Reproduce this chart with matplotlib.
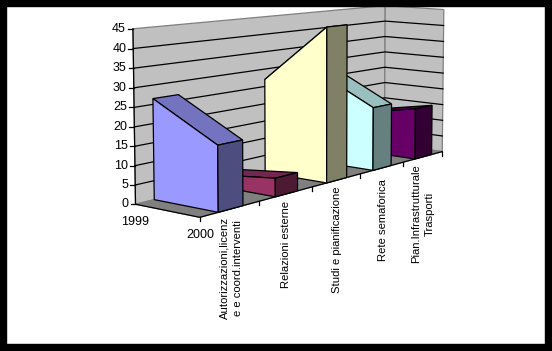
import matplotlib
matplotlib.use("Agg")
import matplotlib.pyplot as plt
import numpy as np

plt.rcParams["font.family"] = ["Liberation Sans", "DejaVu Sans"]

WIDTH, HEIGHT = 552, 351

years = ["1999", "2000"]
categories = ["Autorizzazioni,licenz\ne e coord.interventi", "Relazioni esterne",
              "Studi e pianificazione", "Rete semaforica",
              "Pian.Infrastrutturale\nTrasporti"]
values_1999 = [26.5, 3, 27, 28, 12]
values_2000 = [17, 5, 43.5, 18.5, 15.5]
yticks = [0, 5, 10, 15, 20, 25, 30, 35, 40, 45]

face_colors = ["#9999FF", "#993366", "#FFFFCC", "#CCFFFF", "#660066"]
top_colors = ["#7373BF", "#732650", "#BFBF99", "#99BFBF", "#4D004D"]
side_colors = ["#4D4D80", "#4D1A33", "#808066", "#668080", "#330033"]

# camera: (category pos, year pos, value) -> pixel, fitted on the box corners and ticks
camera_points = [
    ((0, 0, 0), (135, 204)), ((0, 1, 0), (200, 217)), ((1, 1, 0), (259, 202)),
    ((2, 1, 0), (312, 187)), ((3, 1, 0), (360, 173)), ((4, 1, 0), (402, 163)),
    ((5, 1, 0), (442, 152)), ((5, 0, 0), (385, 143)), ((0, 0, 45), (133, 29)),
    ((5, 0, 45), (385, 6)), ((5, 1, 45), (444, 9)),
]


def fit_camera(points):
    rows, rhs = [], []
    for (u, v, z), (px, py) in points:
        rows.append([u, v, z, 1, 0, 0, 0, 0, -px * u, -px * v, -px * z])
        rows.append([0, 0, 0, 0, u, v, z, 1, -py * u, -py * v, -py * z])
        rhs += [px, py]
    sol = np.linalg.lstsq(np.array(rows, float), np.array(rhs, float), rcond=None)[0]
    return np.append(sol, 1).reshape(3, 4)


CAM = fit_camera(camera_points)


def proj(u, v, z):
    p = CAM @ np.array([u, v, z, 1.0])
    return p[0] / p[2], p[1] / p[2]


fig = plt.figure(figsize=(WIDTH / 100, HEIGHT / 100), dpi=100, facecolor="white")
ax = fig.add_axes([0, 0, 1, 1])
ax.set_xlim(0, WIDTH)
ax.set_ylim(HEIGHT, 0)
ax.axis("off")


def face(pts, color, edge="black", z=2, lw=0.9):
    ax.fill([p[0] for p in pts], [p[1] for p in pts], facecolor=color,
            edgecolor=edge, linewidth=lw, zorder=z, joinstyle="miter")


# walls and floor
face([proj(0, 0, 0), proj(5, 0, 0), proj(5, 0, 45), proj(0, 0, 45)], "#C0C0C0", "#808080", 1)
face([proj(5, 0, 0), proj(5, 1, 0), proj(5, 1, 45), proj(5, 0, 45)], "#C0C0C0", "#808080", 1)
face([proj(0, 0, 0), proj(0, 1, 0), proj(5, 1, 0), proj(5, 0, 0)], "#808080", "#808080", 1)

for t in yticks:
    pts = [proj(0, 0, t), proj(5, 0, t), proj(5, 1, t)]
    if 0 < t < 45:
        ax.plot([p[0] for p in pts], [p[1] for p in pts], color="black", lw=0.9, zorder=1.5)
    x0, y0 = proj(0, 0, t)
    ax.plot([x0 - 5, x0], [y0, y0], color="black", lw=0.9, zorder=1.6)
    ax.text(x0 - 7, y0, str(t), ha="right", va="center", fontsize=9, color="black")

# axis lines
p0, p1 = proj(0, 0, 0), proj(0, 0, 45)
ax.plot([p0[0], p1[0]], [p0[1], p1[1]], color="black", lw=0.9, zorder=1.6)
pts = [proj(0, 0, 0), proj(0, 1, 0), proj(5, 1, 0)]
ax.plot([p[0] for p in pts], [p[1] for p in pts], color="black", lw=0.9, zorder=1.6)
for i in range(6):
    x0, y0 = proj(i, 1, 0)
    ax.plot([x0, x0], [y0, y0 + 4], color="black", lw=0.9, zorder=1.6)

# one ribbon per category, running from 1999 at the back to 2000 in front
GAP_L, GAP_R = 0.30, 0.72
for i in reversed(range(len(categories))):
    u0, u1 = i + GAP_L, i + GAP_R
    a, b = values_1999[i], values_2000[i]
    z = 2 + (len(categories) - i) * 0.1
    face([proj(u0, 0, a), proj(u1, 0, a), proj(u1, 1, b), proj(u0, 1, b)], top_colors[i], z=z)
    face([proj(u0, 0, 0), proj(u0, 1, 0), proj(u0, 1, b), proj(u0, 0, a)], face_colors[i], z=z + 0.01)
    face([proj(u0, 1, 0), proj(u1, 1, 0), proj(u1, 1, b), proj(u0, 1, b)], side_colors[i], z=z + 0.02)

# year labels
ax.text(135, 222, years[0], ha="center", va="center", fontsize=9)
ax.text(200, 235, years[1], ha="center", va="center", fontsize=9)

# category labels, rotated
label_x = [231, 286, 337, 383, 423]
label_y = [268, 245, 240, 220, 214]
for name, x, y in zip(categories, label_x, label_y):
    ax.text(x, y, name, rotation=90, ha="center", va="center", fontsize=8.1,
            multialignment="center", linespacing=1.4)

# black frame around the picture
for rect in [(0, 0, WIDTH, 6), (0, 344, WIDTH, 7), (0, 0, 6, HEIGHT), (545, 0, 7, HEIGHT)]:
    ax.add_patch(plt.Rectangle(rect[:2], rect[2], rect[3], color="black", zorder=5))

fig.savefig("out.png", dpi=100)
